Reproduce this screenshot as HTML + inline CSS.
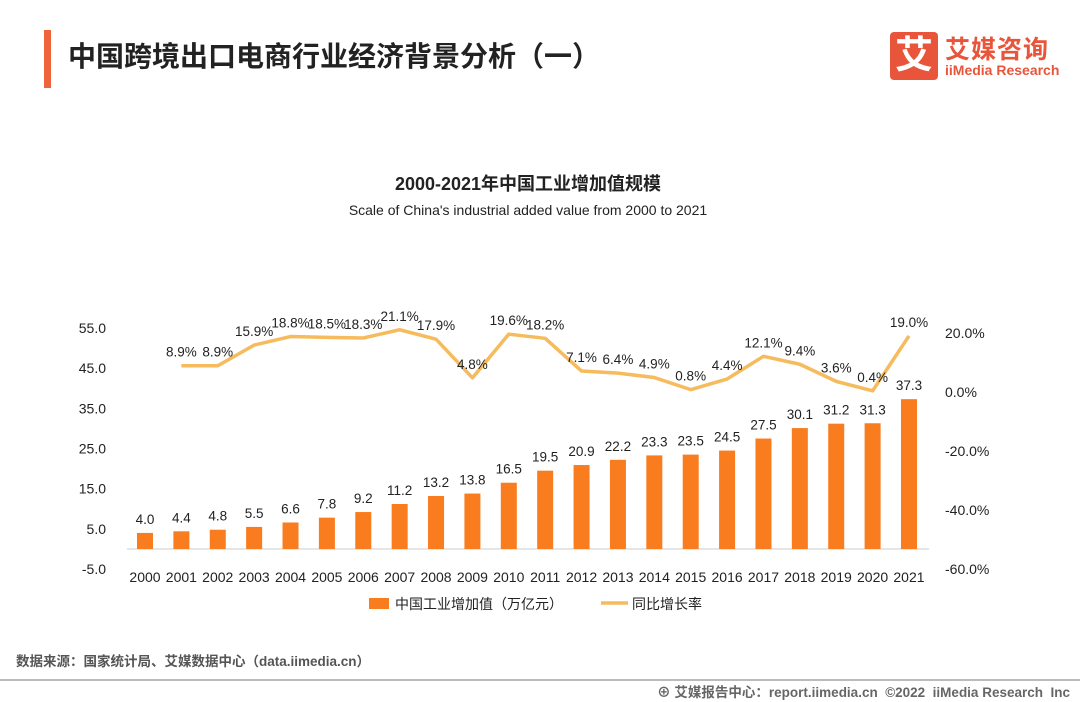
<!DOCTYPE html>
<html><head><meta charset="utf-8"><style>
body{margin:0;width:1080px;height:702px;background:#fff;font-family:"Liberation Sans","Noto Sans CJK SC",sans-serif;position:relative;overflow:hidden}
.abs{position:absolute}
</style></head><body>
<div class="abs" style="left:44px;top:30px;width:7px;height:58px;background:#f0643c"></div>
<div class="abs" style="left:68px;top:35px;font-size:28px;font-weight:bold;color:#222">中国跨境出口电商行业经济背景分析（一）</div>
<div class="abs" style="left:890px;top:32px;width:48px;height:48px;background:#e8553a;border-radius:4px;color:#fff;font-size:38px;font-weight:bold;text-align:center;line-height:48px">艾</div>
<div class="abs" style="left:945px;top:30px;font-size:25px;font-weight:bold;color:#e8553a;letter-spacing:1px">艾媒咨询</div>
<div class="abs" style="left:945px;top:62px;font-size:14px;font-weight:bold;color:#e8553a">iiMedia Research</div>
<div class="abs" style="left:0;width:1056px;top:170px;text-align:center;font-size:18px;font-weight:bold;color:#222">2000-2021年中国工业增加值规模</div>
<div class="abs" style="left:0;width:1056px;top:202px;text-align:center;font-size:14px;color:#222">Scale of China's industrial added value from 2000 to 2021</div>
<svg class="abs" style="left:0;top:0" width="1080" height="702" id="chart"></svg>
<div class="abs" style="left:16px;top:650px;font-size:13.5px;font-weight:bold;color:#555">数据来源：国家统计局、艾媒数据中心（data.iimedia.cn）</div>
<div class="abs" style="left:0;top:679px;width:1080px;height:2px;background:#bbb"></div>
<div class="abs" style="right:10px;top:681px;font-size:13.5px;font-weight:bold;color:#666">⊕ 艾媒报告中心：report.iimedia.cn &nbsp;©2022 &nbsp;iiMedia Research &nbsp;Inc</div>
<script>
const years=["2000","2001","2002","2003","2004","2005","2006","2007","2008","2009","2010","2011","2012","2013","2014","2015","2016","2017","2018","2019","2020","2021"];
const values=[4.0,4.4,4.8,5.5,6.6,7.8,9.2,11.2,13.2,13.8,16.5,19.5,20.9,22.2,23.3,23.5,24.5,27.5,30.1,31.2,31.3,37.3];
const growth=[null,8.9,8.9,15.9,18.8,18.5,18.3,21.1,17.9,4.8,19.6,18.2,7.1,6.4,4.9,0.8,4.4,12.1,9.4,3.6,0.4,19.0];
const leftTicks=[55,45,35,25,15,5,-5];
const rightTicks=[20,0,-20,-40,-60];
const svg=document.getElementById('chart');const NS='http://www.w3.org/2000/svg';
function yL(v){return 549-v*4.017;}
function yR(v){return 392-v*2.95;}
function x(i){return 145+i*36.38;}
function mk(t,a){const e=document.createElementNS(NS,t);for(const k in a)e.setAttribute(k,a[k]);svg.appendChild(e);return e;}
function txt(s,xx,yy,anchor,size,name){const e=mk('text',{x:xx,y:yy,'text-anchor':anchor,'font-size':size,fill:'#222','font-family':'Liberation Sans, Noto Sans CJK SC, sans-serif'});e.textContent=s;

return e;}
leftTicks.forEach(v=>txt(v.toFixed(1),106,yL(v)+5,'end',14,'left-tick-label'));
rightTicks.forEach(v=>txt(v.toFixed(1)+'%',945,yR(v)+5,'start',14,'right-tick-label'));
const ax=mk('line',{x1:127,x2:929,y1:549,y2:549,stroke:'#ccc','stroke-width':1});


years.forEach((y,i)=>{
 txt(y,x(i),582,'middle',14,'x-tick-label');
 const b=mk('rect',{x:x(i)-8,y:yL(values[i]),width:16,height:549-yL(values[i]),fill:'#f97c1e'});
 
 
 txt(values[i].toFixed(1),x(i),yL(values[i])-9,'middle',13.5,'bar-value-label');
});
let pts=[];growth.forEach((g,i)=>{if(g!==null)pts.push(x(i)+','+yR(g));});
const pl=mk('polyline',{points:pts.join(' '),fill:'none',stroke:'#f5bb5c','stroke-width':3.5,'stroke-linejoin':'round'});


growth.forEach((g,i)=>{if(g!==null)txt(g.toFixed(1)+'%',x(i),yR(g)-9,'middle',13.5,'growth-value-label');});
const lb=mk('rect',{x:369,y:598,width:20,height:11,fill:'#f97c1e'});


txt('中国工业增加值（万亿元）',395,609,'start',14,'legend-bar-label');
const ll=mk('line',{x1:601,x2:628,y1:603,y2:603,stroke:'#f5bb5c','stroke-width':3.5});


txt('同比增长率',632,609,'start',14,'legend-line-label');
</script>
</body></html>
